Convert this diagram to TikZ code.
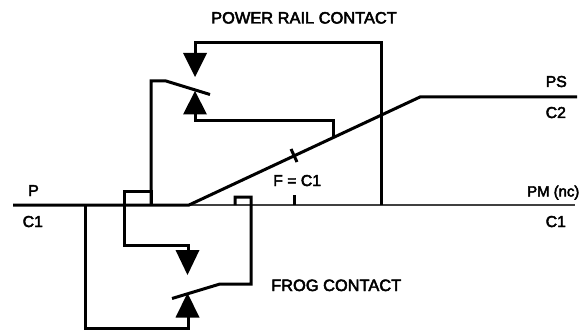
\documentclass[tikz,border=0pt]{standalone}
\usepackage{fontspec}
\setmainfont[FakeBold=3]{Liberation Sans}
\begin{document}
\begin{tikzpicture}[x=1pt,y=-1pt,
  wire/.style={line width=3pt,line join=miter,line cap=butt},
  thin rail/.style={line width=1.1pt,black!75},
  tip/.style={fill=black,draw=none},
  lab/.style={inner sep=0pt,font=\fontsize{15.8}{18}\selectfont,text=black,draw=none},
  head/.style={lab,font=\fontsize{16.4}{18}\selectfont},
  pmlab/.style={lab,font=\fontsize{14.9}{18}\selectfont}]
\useasboundingbox (0,0) rectangle (580,331);
\fill[white] (0,0) rectangle (580,331);
% junction coordinates
\coordinate (pstart) at (13,205);
\coordinate (frogfork) at (189,205);
\coordinate (rise) at (420,97);
\coordinate (psend) at (577,97);
\coordinate (pmend) at (575,205);
% rails
\draw[thin rail] (frogfork) -- (pmend);
\draw[wire] (pstart) -- (frogfork) -- (rise) -- (psend);
% power rail contact
\draw[wire] (381,205) -- (381,43) -- (195,43) -- (195,54);
\fill[tip] (183,53) -- (207,53) -- (195,77) -- cycle;
\fill[tip] (183,114.500) -- (207,114.500) -- (195,91) -- cycle;
\draw[wire] (195,114) -- (195,121) -- (333,121) -- (333,137.500);
\draw[wire] (151,205) -- (151,81) -- (166,81) -- (210,94.500);
% frog contact
\draw[wire] (151,205) -- (151,191) -- (124,191) -- (124,245) -- (188,245) -- (188,251);
\fill[tip] (175.500,250) -- (199.500,250) -- (187.500,275) -- cycle;
\fill[tip] (175.500,317.500) -- (199.500,317.500) -- (187.500,293) -- cycle;
\draw[wire] (188,317) -- (188,328) -- (85,328) -- (85,205);
\draw[wire] (172,298.500) -- (220,284) -- (251,284) -- (251,197) -- (235,197) -- (235,205);
% ticks
\draw[wire] (294,195) -- (294,205);
\draw[wire] (291,149) -- (297,162);
% labels
\node[head,anchor=base west] (t1) at (211,23.500) {POWER RAIL CONTACT};
\node[head,anchor=base west] (t2) at (271,291) {FROG CONTACT};
\node[lab,anchor=base west] (t3) at (28,196) {P};
\node[lab,anchor=base west] (t4) at (22.500,227) {C1};
\node[lab,anchor=base west] (t5) at (545.500,227) {C1};
\node[lab,anchor=base west] (t6) at (545.500,87) {PS};
\node[lab,anchor=base west] (t7) at (545.500,118) {C2};
\node[pmlab,anchor=base west] (t8) at (527,196.500) {PM (nc)};
\node[lab,anchor=base west] (t9) at (273,186) {F = C1};
\end{tikzpicture}
\end{document}
